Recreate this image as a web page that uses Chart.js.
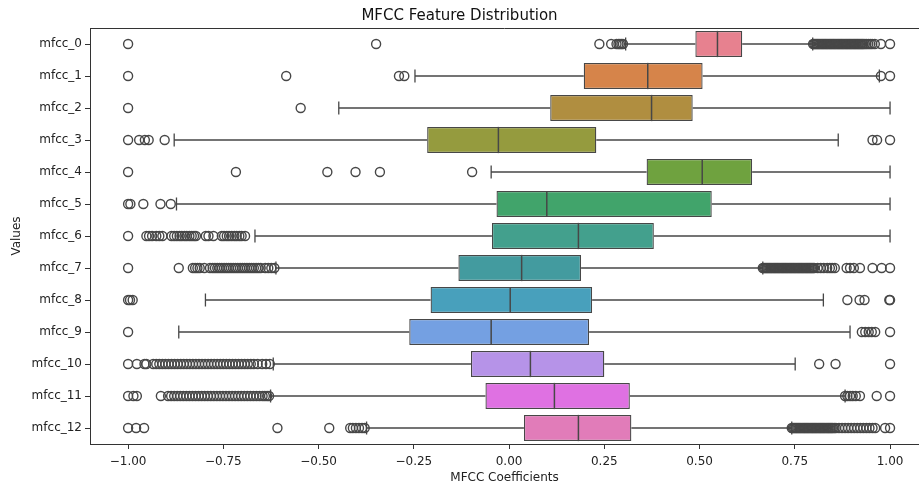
<!DOCTYPE html>
<html>
<head>
<meta charset="utf-8">
<script src="https://cdn.jsdelivr.net/npm/chart.js@4.4.1/dist/chart.umd.min.js"></script>
<style>
  html, body { margin: 0; padding: 0; background: #fff; }
  #wrap { width: 919px; height: 486px; }
</style>
</head>
<body>
<div id="wrap"><canvas id="mfccChart" width="919" height="486"></canvas></div>
<script>
// box plot numbers
const labels = ['mfcc_0', 'mfcc_1', 'mfcc_2', 'mfcc_3', 'mfcc_4', 'mfcc_5', 'mfcc_6',
  'mfcc_7', 'mfcc_8', 'mfcc_9', 'mfcc_10', 'mfcc_11', 'mfcc_12'];
const q1 = [0.489, 0.196, 0.108, -0.215, 0.361, -0.033, -0.045, -0.133, -0.206, -0.262, -0.100, -0.062, 0.039];
const medians = [0.547, 0.364, 0.374, -0.028, 0.507, 0.099, 0.182, 0.033, 0.003, -0.047, 0.056, 0.119, 0.182];
const q3 = [0.612, 0.508, 0.482, 0.229, 0.638, 0.532, 0.380, 0.189, 0.218, 0.210, 0.250, 0.317, 0.321];
const whiskerLow = [0.306, -0.247, -0.447, -0.879, -0.047, -0.873, -0.667, -0.612, -0.797, -0.867, -0.619, -0.626, -0.374];
const whiskerHigh = [0.797, 0.972, 1.0, 0.864, 1.0, 1.0, 1.0, 0.666, 0.825, 0.895, 0.751, 0.882, 0.742];

// fliers, one list per feature
const outliers = [
  [-1.0, -0.349, 0.237, 0.268, 0.282, 0.287, 0.291, 0.295, 0.299,
    0.798, 0.801, 0.804, 0.807, 0.810, 0.813, 0.816, 0.819, 0.822, 0.825, 0.828, 0.831, 0.834, 0.837, 0.840,
    0.843, 0.846, 0.849, 0.852, 0.855, 0.858, 0.861, 0.864, 0.867, 0.870, 0.873, 0.876, 0.879, 0.882, 0.885,
    0.888, 0.891, 0.894, 0.897, 0.900, 0.903, 0.906, 0.909, 0.912, 0.915, 0.918, 0.921, 0.924, 0.927, 0.930,
    0.934, 0.938, 0.943, 0.948, 0.953, 0.96, 0.976, 1.0],
  [-1.0, -0.585, -0.289, -0.275, 0.976, 1.0],
  [-1.0, -0.547],
  [-1.0, -0.971, -0.956, -0.946, -0.904, 0.954, 0.966, 1.0],
  [-1.0, -0.717, -0.477, -0.403, -0.339, -0.097],
  [-1.0, -0.994, -0.96, -0.915, -0.888],
  [-1.0, -0.952, -0.945, -0.937, -0.926, -0.918, -0.91, -0.886, -0.879, -0.872, -0.865, -0.859, -0.852, -0.846,
    -0.839, -0.833, -0.827, -0.822, -0.796, -0.789, -0.776, -0.754, -0.748, -0.741, -0.735, -0.728, -0.721, -0.715,
    -0.708, -0.702, -0.693],
  [-1.0, -0.867, -0.83, -0.824, -0.818, -0.812, -0.80, -0.785, -0.778, -0.772, -0.766, -0.76, -0.754, -0.748, -0.742,
    -0.736, -0.73, -0.724, -0.718, -0.712, -0.706, -0.70, -0.694, -0.688, -0.682, -0.676, -0.67, -0.664, -0.658,
    -0.652, -0.64, -0.632, -0.624, -0.616,
    0.666, 0.669, 0.672, 0.675, 0.678, 0.681, 0.684, 0.687, 0.690, 0.693, 0.696, 0.699, 0.702, 0.705, 0.708,
    0.711, 0.714, 0.717, 0.720, 0.723, 0.726, 0.729, 0.732, 0.735, 0.738, 0.741, 0.744, 0.747, 0.750, 0.753,
    0.756, 0.759, 0.762, 0.765, 0.768, 0.771, 0.774, 0.777, 0.780, 0.783, 0.786, 0.789, 0.792, 0.795, 0.798,
    0.801, 0.81, 0.818, 0.826, 0.835, 0.842, 0.848, 0.855, 0.886, 0.895, 0.905, 0.921, 0.954, 0.978, 1.0],
  [-1.0, -0.995, -0.988, 0.888, 0.92, 0.933, 0.998, 1.0],
  [-1.0, 0.926, 0.935, 0.944, 0.952, 0.961, 1.0],
  [-1.0, -0.977, -0.957, -0.952, -0.934, -0.926, -0.918, -0.91, -0.902, -0.894, -0.886, -0.878, -0.87, -0.862,
    -0.854, -0.846, -0.838, -0.83, -0.822, -0.814, -0.806, -0.798, -0.79, -0.782, -0.774, -0.766, -0.758, -0.75,
    -0.742, -0.734, -0.726, -0.718, -0.71, -0.702, -0.694, -0.686, -0.678, -0.67, -0.66, -0.648, -0.638, -0.628,
    0.814, 0.857, 1.0],
  [-1.0, -0.986, -0.977, -0.914, -0.895, -0.887, -0.879, -0.871, -0.863, -0.855, -0.847, -0.839, -0.831, -0.823,
    -0.815, -0.807, -0.799, -0.791, -0.783, -0.775, -0.767, -0.759, -0.751, -0.743, -0.735, -0.727, -0.719, -0.711,
    -0.703, -0.695, -0.687, -0.679, -0.671, -0.663, -0.655, -0.647, -0.641, -0.635, -0.63,
    0.882, 0.888, 0.895, 0.902, 0.91, 0.921, 0.965, 1.0],
  [-1.0, -0.979, -0.958, -0.608, -0.472, -0.417, -0.41, -0.402, -0.394, -0.386, -0.379,
    0.742, 0.745, 0.748, 0.751, 0.754, 0.757, 0.760, 0.763, 0.766, 0.769, 0.772, 0.775, 0.778, 0.781, 0.784,
    0.787, 0.790, 0.793, 0.796, 0.799, 0.802, 0.805, 0.808, 0.811, 0.814, 0.817, 0.820, 0.823, 0.826, 0.829,
    0.832, 0.835, 0.838, 0.841, 0.844, 0.847, 0.850, 0.854, 0.858, 0.866, 0.874, 0.882, 0.89, 0.898, 0.906,
    0.914, 0.922, 0.93, 0.938, 0.946, 0.954, 0.961, 0.987, 1.0]
];

const xTicks = [-1.0, -0.75, -0.5, -0.25, 0, 0.25, 0.5, 0.75, 1.0];

const boxColors = ['#e7818f', '#d6844a', '#b08e40', '#959b3e', '#6fa23f', '#41a46b', '#43a08d',
  '#439b9f', '#48a0bc', '#74a0e2', '#b693e8', '#df71e2', '#e17cb9'];
const lineColor = '#474747';
const font = 'DejaVu Sans';

// whiskers under the boxes, medians + top spine on top
const boxParts = {
  id: 'boxParts',
  beforeDatasetsDraw(chart) {
    const { ctx, scales: { x, y } } = chart;
    const band = y.getPixelForValue(1) - y.getPixelForValue(0);
    const cap = band * 0.2;
    ctx.save();
    ctx.strokeStyle = lineColor;
    ctx.lineWidth = 1.3;
    labels.forEach((l, i) => {
      const cy = y.getPixelForValue(i);
      const lo = x.getPixelForValue(whiskerLow[i]);
      const hi = x.getPixelForValue(whiskerHigh[i]);
      ctx.beginPath();
      ctx.moveTo(lo, cy); ctx.lineTo(x.getPixelForValue(q1[i]), cy);
      ctx.moveTo(x.getPixelForValue(q3[i]), cy); ctx.lineTo(hi, cy);
      ctx.moveTo(lo, cy - cap); ctx.lineTo(lo, cy + cap);
      ctx.moveTo(hi, cy - cap); ctx.lineTo(hi, cy + cap);
      ctx.stroke();
    });
    ctx.restore();
  },
  afterDatasetsDraw(chart) {
    const { ctx, chartArea, scales: { x, y } } = chart;
    const band = y.getPixelForValue(1) - y.getPixelForValue(0);
    const half = band * 0.41;
    ctx.save();
    ctx.strokeStyle = lineColor;
    ctx.lineWidth = 1.5;
    labels.forEach((l, i) => {
      const cy = y.getPixelForValue(i);
      const mx = x.getPixelForValue(medians[i]);
      ctx.beginPath();
      ctx.moveTo(mx, cy - half);
      ctx.lineTo(mx, cy + half);
      ctx.stroke();
    });
    ctx.strokeStyle = '#333';
    ctx.lineWidth = 1;
    ctx.beginPath();
    ctx.moveTo(chartArea.left, chartArea.top + 0.5);
    ctx.lineTo(chart.width, chartArea.top + 0.5);
    ctx.stroke();
    ctx.restore();
  }
};

const flierPoints = [];
outliers.forEach((list, i) => {
  list.forEach(v => flierPoints.push({ x: v, y: labels[i] }));
});

new Chart(document.getElementById('mfccChart'), {
  type: 'bar',
  data: {
    labels: labels,
    datasets: [{
      label: 'box',
      data: q1.map((v, i) => [v, q3[i]]),
      backgroundColor: boxColors,
      borderColor: lineColor,
      borderWidth: 1.3,
      borderSkipped: false,
      barPercentage: 0.82,
      categoryPercentage: 1.0,
      order: 1
    }, {
      type: 'scatter',
      label: 'fliers',
      data: flierPoints,
      pointStyle: 'circle',
      pointRadius: 4.5,
      borderColor: lineColor,
      backgroundColor: 'rgba(0,0,0,0)',
      borderWidth: 1.4,
      clip: false,
      order: 2
    }]
  },
  plugins: [boxParts],
  options: {
    indexAxis: 'y',
    responsive: false,
    devicePixelRatio: 1,
    animation: false,
    layout: { autoPadding: false, padding: { left: 0, right: 0, top: 0, bottom: 0 } },
    plugins: {
      legend: { display: false },
      tooltip: { enabled: false },
      title: {
        display: true,
        text: 'MFCC Feature Distribution',
        color: '#111',
        font: { family: font, size: 15, weight: 'normal', lineHeight: 1.2 },
        padding: { top: 7, bottom: 3 }
      }
    },
    scales: {
      x: {
        type: 'linear',
        min: -1.1,
        max: 1.076,
        afterBuildTicks(scale) {
          scale.ticks = xTicks.map(v => ({ value: v }));
        },
        afterFit(scale) {
          scale.height = 42;
        },
        border: { display: true, color: '#333', width: 1 },
        grid: { display: true, drawOnChartArea: false, drawTicks: true, tickLength: 5, color: '#333' },
        ticks: {
          color: '#222',
          font: { family: font, size: 12 },
          padding: 6,
          maxRotation: 0,
          callback: v => (v < 0 ? '\u2212' : '') + Math.abs(v).toFixed(2)
        },
        title: {
          display: true,
          text: 'MFCC Coefficients',
          color: '#222',
          font: { family: font, size: 12 },
          padding: { top: 0, bottom: 1 }
        }
      },
      y: {
        type: 'category',
        offset: true,
        afterFit(scale) { scale.width = 90; },
        border: { display: true, color: '#333', width: 1 },
        grid: { display: true, drawOnChartArea: false, drawTicks: true, tickLength: 5, color: '#333', offset: false },
        ticks: {
          color: '#222',
          font: { family: font, size: 12 },
          padding: 3
        },
        title: {
          display: true,
          text: 'Values',
          color: '#222',
          font: { family: font, size: 12 },
          padding: { top: 10, bottom: 0 }
        }
      }
    }
  }
});
</script>
</body>
</html>
